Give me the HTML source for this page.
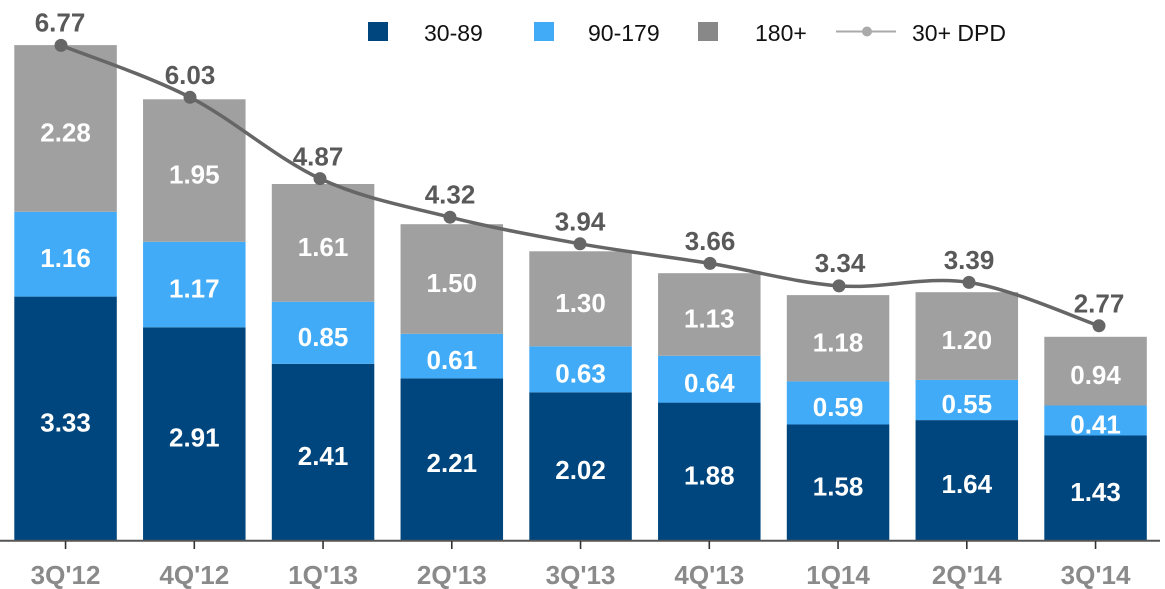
<!DOCTYPE html>
<html>
<head>
<meta charset="utf-8">
<style>
  html, body { margin: 0; padding: 0; background: #ffffff; }
  svg { display: block; }
  .bl { font-family: "Liberation Sans", Arial, sans-serif; font-weight: bold; font-size: 26px; fill: #ffffff; text-anchor: middle; }
  .tl { font-family: "Liberation Sans", Arial, sans-serif; font-weight: bold; font-size: 26px; fill: #595959; text-anchor: middle; }
  .cl { font-family: "Liberation Sans", Arial, sans-serif; font-weight: bold; font-size: 26px; fill: #8a8a8a; text-anchor: middle; }
  .lg { font-family: "Liberation Sans", Arial, sans-serif; font-size: 23px; fill: #111111; }
</style>
</head>
<body>
<svg width="1165" height="589" viewBox="0 0 1165 589" xmlns="http://www.w3.org/2000/svg">
  <rect x="0" y="0" width="1165" height="589" fill="#ffffff"/>

  <!-- Bars -->
  <g>
    <!-- 3Q'12 -->
    <rect x="14.3" y="296.6" width="102.5" height="243.4" fill="#00467e"/>
    <rect x="14.3" y="211.8" width="102.5" height="84.8" fill="#41abf7"/>
    <rect x="14.3" y="45.1" width="102.5" height="166.7" fill="#a0a0a0"/>
    <!-- 4Q'12 -->
    <rect x="143.05" y="327.3" width="102.5" height="212.7" fill="#00467e"/>
    <rect x="143.05" y="241.8" width="102.5" height="85.5" fill="#41abf7"/>
    <rect x="143.05" y="99.3" width="102.5" height="142.5" fill="#a0a0a0"/>
    <!-- 1Q'13 -->
    <rect x="271.8" y="363.8" width="102.5" height="176.2" fill="#00467e"/>
    <rect x="271.8" y="301.7" width="102.5" height="62.1" fill="#41abf7"/>
    <rect x="271.8" y="184.0" width="102.5" height="117.7" fill="#a0a0a0"/>
    <!-- 2Q'13 -->
    <rect x="400.55" y="378.4" width="102.5" height="161.6" fill="#00467e"/>
    <rect x="400.55" y="333.8" width="102.5" height="44.6" fill="#41abf7"/>
    <rect x="400.55" y="224.2" width="102.5" height="109.6" fill="#a0a0a0"/>
    <!-- 3Q'13 -->
    <rect x="529.3" y="392.3" width="102.5" height="147.7" fill="#00467e"/>
    <rect x="529.3" y="346.3" width="102.5" height="46.0" fill="#41abf7"/>
    <rect x="529.3" y="251.3" width="102.5" height="95.0" fill="#a0a0a0"/>
    <!-- 4Q'13 -->
    <rect x="658.05" y="402.6" width="102.5" height="137.4" fill="#00467e"/>
    <rect x="658.05" y="355.8" width="102.5" height="46.8" fill="#41abf7"/>
    <rect x="658.05" y="273.2" width="102.5" height="82.6" fill="#a0a0a0"/>
    <!-- 1Q14 -->
    <rect x="786.8" y="424.5" width="102.5" height="115.5" fill="#00467e"/>
    <rect x="786.8" y="381.4" width="102.5" height="43.1" fill="#41abf7"/>
    <rect x="786.8" y="295.1" width="102.5" height="86.3" fill="#a0a0a0"/>
    <!-- 2Q'14 -->
    <rect x="915.55" y="420.1" width="102.5" height="119.9" fill="#00467e"/>
    <rect x="915.55" y="379.9" width="102.5" height="40.2" fill="#41abf7"/>
    <rect x="915.55" y="292.2" width="102.5" height="87.7" fill="#a0a0a0"/>
    <!-- 3Q'14 -->
    <rect x="1044.3" y="435.5" width="102.5" height="104.5" fill="#00467e"/>
    <rect x="1044.3" y="405.5" width="102.5" height="30.0" fill="#41abf7"/>
    <rect x="1044.3" y="336.8" width="102.5" height="68.7" fill="#a0a0a0"/>
  </g>

  <!-- Bar value labels -->
  <g>
    <text class="bl" x="65.55" y="431.3">3.33</text>
    <text class="bl" x="65.55" y="267.2">1.16</text>
    <text class="bl" x="65.55" y="141.5">2.28</text>

    <text class="bl" x="194.3" y="446.7">2.91</text>
    <text class="bl" x="194.3" y="297.6">1.17</text>
    <text class="bl" x="194.3" y="183.6">1.95</text>

    <text class="bl" x="323.05" y="464.9">2.41</text>
    <text class="bl" x="323.05" y="345.8">0.85</text>
    <text class="bl" x="323.05" y="255.9">1.61</text>

    <text class="bl" x="451.8" y="472.2">2.21</text>
    <text class="bl" x="451.8" y="369.1">0.61</text>
    <text class="bl" x="451.8" y="292.0">1.50</text>

    <text class="bl" x="580.55" y="479.2">2.02</text>
    <text class="bl" x="580.55" y="382.3">0.63</text>
    <text class="bl" x="580.55" y="311.8">1.30</text>

    <text class="bl" x="709.3" y="484.3">1.88</text>
    <text class="bl" x="709.3" y="392.2">0.64</text>
    <text class="bl" x="709.3" y="327.5">1.13</text>

    <text class="bl" x="838.05" y="495.3">1.58</text>
    <text class="bl" x="838.05" y="416.0">0.59</text>
    <text class="bl" x="838.05" y="351.3">1.18</text>

    <text class="bl" x="966.8" y="493.1">1.64</text>
    <text class="bl" x="966.8" y="413.0">0.55</text>
    <text class="bl" x="966.8" y="349.1">1.20</text>

    <text class="bl" x="1095.55" y="500.8">1.43</text>
    <text class="bl" x="1095.55" y="433.5">0.41</text>
    <text class="bl" x="1095.55" y="384.2">0.94</text>
  </g>

  <!-- Axis -->
  <line x1="0" y1="540.8" x2="1160" y2="540.8" stroke="#555555" stroke-width="2"/>
  <g stroke="#333333" stroke-width="1.6">
    <line x1="65.55" y1="541" x2="65.55" y2="549"/>
    <line x1="194.3" y1="541" x2="194.3" y2="549"/>
    <line x1="323.05" y1="541" x2="323.05" y2="549"/>
    <line x1="451.8" y1="541" x2="451.8" y2="549"/>
    <line x1="580.55" y1="541" x2="580.55" y2="549"/>
    <line x1="709.3" y1="541" x2="709.3" y2="549"/>
    <line x1="838.05" y1="541" x2="838.05" y2="549"/>
    <line x1="966.8" y1="541" x2="966.8" y2="549"/>
    <line x1="1095.55" y1="541" x2="1095.55" y2="549"/>
  </g>

  <!-- Category labels -->
  <g>
    <text class="cl" x="65.55" y="584">3Q'12</text>
    <text class="cl" x="194.3" y="584">4Q'12</text>
    <text class="cl" x="323.05" y="584">1Q'13</text>
    <text class="cl" x="451.8" y="584">2Q'13</text>
    <text class="cl" x="580.55" y="584">3Q'13</text>
    <text class="cl" x="709.3" y="584">4Q'13</text>
    <text class="cl" x="838.05" y="584">1Q14</text>
    <text class="cl" x="966.8" y="584">2Q'14</text>
    <text class="cl" x="1095.55" y="584">3Q'14</text>
  </g>

  <!-- Smoothed total line -->
  <path d="M61,45.4 C82.5,54.05 146.8,75.1 190,97.3 C233.2,119.5 276.7,158.6 320,178.6 C363.3,198.6 406.7,206.3 450,217.2 C493.3,228.1 536.7,236.1 580,243.8 C623.3,251.5 666.8,256.4 710,263.4 C753.2,270.4 795.8,282.7 839,285.9 C882.2,289.1 925.7,275.75 969,282.4 C1012.3,289.05 1077.3,318.6 1099,325.8"
        fill="none" stroke="#666666" stroke-width="3.5" stroke-linejoin="round" stroke-linecap="round"/>
  <g fill="#666666">
    <circle cx="61" cy="45.4" r="6.5"/>
    <circle cx="190" cy="97.3" r="6.5"/>
    <circle cx="320" cy="178.6" r="6.5"/>
    <circle cx="450" cy="217.2" r="6.5"/>
    <circle cx="580" cy="243.8" r="6.5"/>
    <circle cx="710" cy="263.4" r="6.5"/>
    <circle cx="839" cy="285.9" r="6.5"/>
    <circle cx="969" cy="282.4" r="6.5"/>
    <circle cx="1099" cy="325.8" r="6.5"/>
  </g>

  <!-- Total labels -->
  <g>
    <text class="tl" x="60" y="31.7">6.77</text>
    <text class="tl" x="190" y="83.8">6.03</text>
    <text class="tl" x="318" y="165.6">4.87</text>
    <text class="tl" x="450" y="203.7">4.32</text>
    <text class="tl" x="580" y="230.3">3.94</text>
    <text class="tl" x="710" y="249.9">3.66</text>
    <text class="tl" x="840" y="272.2">3.34</text>
    <text class="tl" x="969" y="268.9">3.39</text>
    <text class="tl" x="1099" y="312.3">2.77</text>
  </g>

  <!-- Legend -->
  <g>
    <rect x="368" y="22" width="20" height="19" fill="#00467e"/>
    <text class="lg" x="424" y="41">30-89</text>
    <rect x="534" y="22" width="20" height="19" fill="#41abf7"/>
    <text class="lg" x="588" y="41">90-179</text>
    <rect x="698" y="22" width="20" height="19" fill="#888888"/>
    <text class="lg" x="755" y="41">180+</text>
    <line x1="836" y1="31.5" x2="896" y2="31.5" stroke="#aaaaaa" stroke-width="2"/>
    <circle cx="867" cy="31.5" r="5" fill="#aaaaaa"/>
    <text class="lg" x="912" y="41">30+ DPD</text>
  </g>
</svg>
</body>
</html>
